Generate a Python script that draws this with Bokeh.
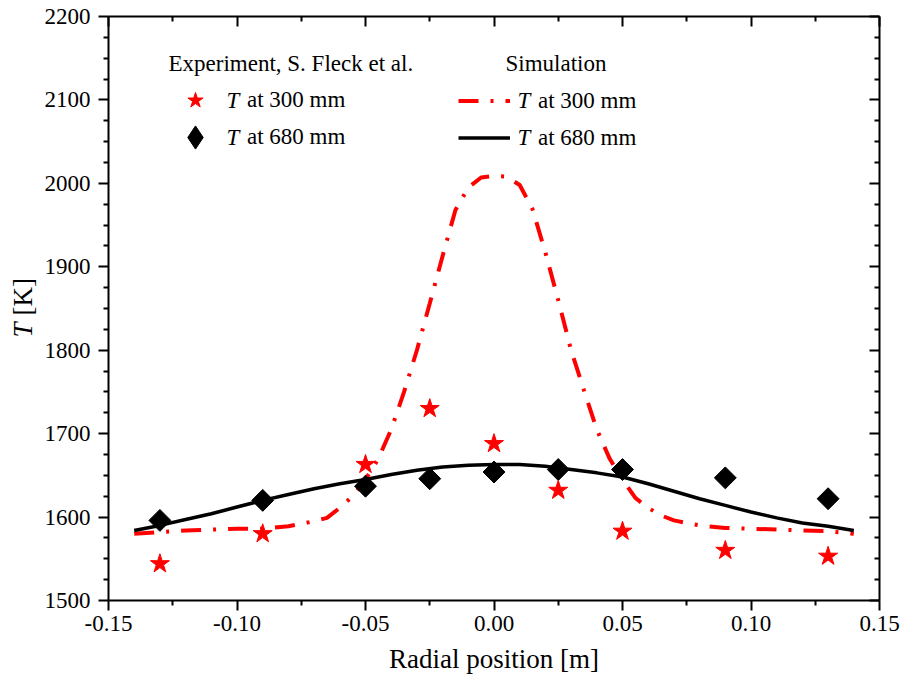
import numpy as np
from bokeh.plotting import figure
from bokeh.layouts import row
from bokeh.models import (Range1d, LinearAxis, FixedTicker, NumeralTickFormatter,
                          Legend, LegendItem, Label)
from bokeh.embed import file_html
from bokeh.resources import INLINE

# Measured temperatures (S. Fleck et al.)
exp_r = [-0.13, -0.09, -0.05, -0.025, 0.0, 0.025, 0.05, 0.09, 0.13]
exp_T_300 = [1544, 1580, 1663, 1730, 1688, 1632, 1583, 1560, 1553]
exp_T_680 = [1596, 1620, 1637, 1646, 1654, 1657, 1657, 1647, 1622]

# Simulated radial profile at 300 mm
sim_r_300 = [-0.14, -0.13, -0.12, -0.11, -0.10, -0.09, -0.08, -0.07, -0.065, -0.06,
             -0.055, -0.05, -0.045, -0.04, -0.035, -0.03, -0.025, -0.02, -0.015, -0.01,
             -0.005, 0.0, 0.005, 0.01, 0.015, 0.02, 0.025, 0.03, 0.035, 0.04,
             0.045, 0.05, 0.055, 0.06, 0.065, 0.07, 0.08, 0.09, 0.10, 0.11,
             0.12, 0.13, 0.14]
sim_T_300 = [1580, 1582, 1584, 1585, 1586, 1586, 1589, 1595, 1599, 1611,
             1625, 1645, 1670, 1705, 1750, 1800, 1856, 1913, 1968, 1995,
             2007, 2009, 2008, 1998, 1969, 1917, 1860, 1800, 1752, 1705,
             1670, 1645, 1623, 1611, 1602, 1596, 1590, 1587, 1586, 1585,
             1584, 1583, 1580]

# Simulated radial profile at 680 mm
sim_r_680 = [-0.14, -0.13, -0.12, -0.11, -0.10, -0.09, -0.08, -0.07, -0.06, -0.05,
             -0.04, -0.03, -0.02, -0.01, 0.0, 0.01, 0.02, 0.03, 0.04, 0.05,
             0.06, 0.07, 0.08, 0.09, 0.10, 0.11, 0.12, 0.13, 0.14]
sim_T_680 = [1584, 1590, 1597, 1604, 1612, 1620, 1627, 1634, 1640, 1645,
             1651, 1656, 1660, 1662, 1663, 1663, 1661, 1657, 1653, 1648,
             1640, 1631, 1622, 1614, 1606, 1599, 1593, 1589, 1584]

# Axis ticks
x_major = [-0.15, -0.10, -0.05, 0.0, 0.05, 0.10, 0.15]
x_minor = [-0.125, -0.075, -0.025, 0.025, 0.075, 0.125]
y_major = [1500, 1600, 1700, 1800, 1900, 2000, 2100, 2200]
y_minor = [v + d for v in y_major[:-1] for d in (25, 50, 75)]

FONT = "Liberation Serif"
FS = "23px"
FS_TITLE = "27px"

p = figure(width=861, height=681, output_backend="svg", toolbar_location=None,
           x_range=Range1d(-0.15, 0.15), y_range=Range1d(1500, 2200),
           min_border_left=68, min_border_right=22, min_border_top=16, min_border_bottom=81)
p.xgrid.visible = False
p.ygrid.visible = False
p.outline_line_color = None
p.background_fill_color = "white"
p.border_fill_color = "white"

x_ticker = FixedTicker(ticks=x_major, minor_ticks=x_minor)
y_ticker = FixedTicker(ticks=y_major, minor_ticks=y_minor)


def style_axis(ax, outward):
    ax.axis_line_width = 2
    ax.axis_line_color = "black"
    ax.major_tick_line_width = 2
    ax.minor_tick_line_width = 2
    ax.major_tick_line_color = "black"
    ax.minor_tick_line_color = "black"
    if outward:
        ax.major_tick_out, ax.major_tick_in = 10, 0
        ax.minor_tick_out, ax.minor_tick_in = 5, 0
        ax.major_label_text_font = FONT
        ax.major_label_text_font_size = FS
        ax.major_label_text_color = "black"
    else:
        ax.major_tick_out, ax.major_tick_in = 0, 10
        ax.minor_tick_out, ax.minor_tick_in = 0, 5
        ax.major_label_text_color = None
        ax.major_label_text_font_size = "1px"
        ax.major_label_standoff = 0


xa = p.xaxis[0]
xa.ticker = x_ticker
xa.formatter = NumeralTickFormatter(format="0.00")
style_axis(xa, True)
xa.major_label_standoff = 5
xa.axis_label = "Radial position [m]"
xa.axis_label_text_font = FONT
xa.axis_label_text_font_size = FS_TITLE
xa.axis_label_text_font_style = "normal"
xa.axis_label_text_color = "black"
xa.axis_label_standoff = 10

ya = p.yaxis[0]
ya.ticker = y_ticker
style_axis(ya, True)
ya.major_label_standoff = 8
ya.axis_label = None

top = LinearAxis(ticker=x_ticker)
style_axis(top, False)
p.add_layout(top, "above")
right = LinearAxis(ticker=y_ticker)
style_axis(right, False)
p.add_layout(right, "right")

# Simulation curves
r_sim300 = p.line(sim_r_300, sim_T_300, line_color="#ff0000", line_width=4,
                  line_dash="20 12 3 12")
r_sim680 = p.line(sim_r_680, sim_T_680, line_color="black", line_width=3.5)

# Experimental points; the small upright diamonds sit beneath the rotated
# squares and only serve as the legend swatch for the 680 mm series
r_key680 = p.scatter(exp_r, exp_T_680, marker="diamond", size=10,
                     fill_color="black", line_color="black")
r_exp680 = p.scatter(exp_r, exp_T_680, marker="square", size=15.5, angle=np.pi / 4,
                     fill_color="black", line_color="black")
r_exp300 = p.scatter(exp_r, exp_T_300, marker="star", size=20, fill_color="#ff0000",
                     line_color="#ff0000")

# Legends (italic T drawn as separate labels)
leg_common = dict(padding=0, margin=0, spacing=0, border_line_color=None,
                  background_fill_alpha=0, label_text_font=FONT,
                  label_text_font_size=FS, label_text_color="black")

leg_star = Legend(items=[LegendItem(label="at 300 mm", renderers=[r_exp300])],
                  location=(67, 480), glyph_width=40, glyph_height=40, label_height=40,
                  label_standoff=32, **leg_common)
leg_diam = Legend(items=[LegendItem(label="at 680 mm", renderers=[r_key680])],
                  location=(58, 434), glyph_width=58, glyph_height=58,
                  label_height=58, label_standoff=23, **leg_common)
leg_sim = Legend(items=[LegendItem(label="at 300 mm", renderers=[r_sim300]),
                        LegendItem(label="at 680 mm", renderers=[r_sim680])],
                 location=(350, 444), glyph_width=52, glyph_height=37, label_height=37,
                 label_standoff=28, **leg_common)
for leg in (leg_star, leg_diam, leg_sim):
    p.add_layout(leg)

label_common = dict(x_units="screen", y_units="screen", text_font=FONT,
                    text_font_size=FS, text_color="black", text_baseline="middle")
p.add_layout(Label(x=60, y=537, text="Experiment, S. Fleck et al.", **label_common))
p.add_layout(Label(x=397, y=537, text="Simulation", **label_common))
for lx in (118, 409):
    for ly in (500, 463):
        p.add_layout(Label(x=lx, y=ly, text="T", text_font_style="italic", **label_common))

# Narrow strip carrying the y-axis title (italic T followed by unit)
strip = figure(width=40, height=681, output_backend="svg", toolbar_location=None,
               x_range=Range1d(0, 1), y_range=Range1d(0, 1), min_border=0,
               x_axis_location=None, y_axis_location=None)
strip.outline_line_color = None
strip.grid.visible = False
title_common = dict(x_units="screen", y_units="screen", text_font=FONT,
                    text_font_size=FS_TITLE, text_color="black", text_baseline="middle",
                    text_align="left", angle=np.pi / 2)
strip.add_layout(Label(x=22.5, y=263, text="T", text_font_style="italic", **title_common))
strip.add_layout(Label(x=22.5, y=285, text="[K]", **title_common))

layout = row(strip, p, spacing=0)
open("out.html", "w").write(file_html(layout, INLINE))
